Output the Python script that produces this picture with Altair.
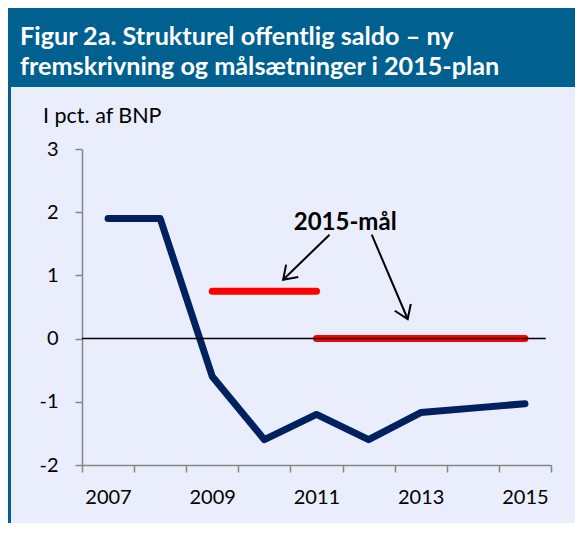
import altair as alt
import pandas as pd

# ---- data ----
years = [2007, 2008, 2009, 2010, 2011, 2012, 2013, 2014, 2015]
saldo = [1.9, 1.9, -0.6, -1.6, -1.2, -1.6, -1.17, -1.1, -1.03]

target_start = [2009, 2011]
target_end = [2011, 2015]
target_value = [0.75, 0.0]

y_ticks = [-2, -1, 0, 1, 2, 3]
x_tick_bounds = [2006.5 + i for i in range(10)]

title_text = "Figur 2a. Strukturel offentlig saldo – ny\nfremskrivning og målsætninger i 2015-plan"
y_unit = "I pct. af BNP"
annot_text = ["2015-mål"]
annot_x = [2011.55]
annot_y = [1.83]
arrow_x_start = [2011.25, 2012.06]
arrow_y_start = [1.644, 1.644]
arrow_x_end = [2010.36, 2012.75]
arrow_y_end = [0.932, 0.31]
arrow_angle = [225.6, 157.1]

# ---- styling ----
NAVY = "#002060"
RED = "#FF0000"
HEADER = "#00608F"
BG = "#EAEDFB"
GRAY = "#868686"
FONT = "Lato"

W, H = 469, 316
PAD_L, PAD_T = 74, 141
CANVAS_W, CANVAS_H = 567, 515
PAD_R = CANVAS_W - PAD_L - W
PAD_B = CANVAS_H - PAD_T - H

line_df = pd.DataFrame({"year": years, "saldo": saldo})
target_df = pd.DataFrame({"start": target_start, "end": target_end, "value": target_value})
arrow_df = pd.DataFrame({"x1": arrow_x_start, "y1": arrow_y_start,
                         "x2": arrow_x_end, "y2": arrow_y_end, "angle": arrow_angle})
annot_df = pd.DataFrame({"t": annot_text, "x": annot_x, "y": annot_y})
zero_df = pd.DataFrame({"a": [x_tick_bounds[0]], "b": [x_tick_bounds[-1] - 0.1], "y": [0]})
one = pd.DataFrame({"k": [0]})

xscale = alt.Scale(domain=[x_tick_bounds[0], x_tick_bounds[-1]], nice=False, zero=False)
yscale = alt.Scale(domain=[y_ticks[0], y_ticks[-1]], nice=False, zero=False)

x_axis = alt.Axis(
    values=x_tick_bounds,
    labelExpr="((datum.value + 0.5) % 2 == 1 && datum.value < 2015) ? '' + (datum.value + 0.5) : ''",
    labelOffset=26, labelOverlap=False, labelFlush=False,
    ticks=True, tickSize=7, tickColor=GRAY, tickWidth=1.5, domainColor=GRAY, domainWidth=1.5,
    grid=False, title=None, labelFont=FONT, labelFontSize=20, labelColor="black",
    labelPadding=15,
)
y_axis = alt.Axis(
    values=y_ticks, labelExpr="'' + datum.value",
    ticks=True, tickSize=7, tickColor=GRAY, tickWidth=1.5, domainColor=GRAY, domainWidth=1.5,
    grid=False, title=None, labelFont=FONT, labelFontSize=20, labelColor="black",
    labelPadding=17, labelAlign="right",
)


def X(field):
    return alt.X(field, type="quantitative", scale=xscale, axis=x_axis)


def Y(field):
    return alt.Y(field, type="quantitative", scale=yscale, axis=y_axis)


header = alt.Chart(one).mark_rect(color=HEADER).encode(
    x=alt.value(-PAD_L), x2=alt.value(CANVAS_W - PAD_L),
    y=alt.value(-PAD_T), y2=alt.value(-62),
)
stripe = alt.Chart(one).mark_rect(color=HEADER).encode(
    x=alt.value(-PAD_L), x2=alt.value(-PAD_L + 3),
    y=alt.value(-62), y2=alt.value(CANVAS_H - PAD_T),
)
title = alt.Chart(one).mark_text(
    align="left", baseline="alphabetic", font=FONT, fontWeight="bold",
    fontSize=25.2, color="white", lineBreak="\n", lineHeight=29.5,
).encode(x=alt.value(-62), y=alt.value(-104), text=alt.value(title_text))

unit = alt.Chart(one).mark_text(
    align="left", baseline="alphabetic", font=FONT, fontSize=21.5, color="black",
).encode(x=alt.value(-39), y=alt.value(-26), text=alt.value(y_unit))

line = alt.Chart(line_df).mark_line(color=NAVY, strokeWidth=7, strokeCap="round",
                                    strokeJoin="round").encode(
    x=X("year"), y=Y("saldo"),
)

targets = alt.Chart(target_df).mark_rule(color=RED, strokeWidth=7, strokeCap="round").encode(
    x=X("start"), x2="end:Q", y=Y("value"),
)

zero = alt.Chart(zero_df).mark_rule(color="black", strokeWidth=1.5).encode(
    x=X("a"), x2="b:Q", y=Y("y"),
)

arrows = alt.Chart(arrow_df).mark_rule(color="black", strokeWidth=2).encode(
    x=X("x1"), x2="x2:Q", y=Y("y1"), y2="y2:Q",
)
heads = alt.Chart(arrow_df).mark_point(
    shape="M -0.55 0.8 L 0 0 L 0.55 0.8", filled=False, size=1000,
    strokeWidth=2, color="black", opacity=1,
).encode(
    x=X("x2"), y=Y("y2"),
    angle=alt.Angle("angle:Q", scale=None),
)

annot = alt.Chart(annot_df).mark_text(
    font=FONT, fontWeight="bold", fontSize=24, color="black", baseline="middle",
).encode(
    x=X("x"), y=Y("y"), text="t:N",
)

chart = alt.layer(
    header, stripe, title, unit, line, targets, zero, arrows, heads, annot
).properties(
    width=W, height=H,
    padding={"left": PAD_L, "top": PAD_T, "right": PAD_R, "bottom": PAD_B},
    autosize=alt.AutoSizeParams(type="none"),
    background=BG,
).configure_view(strokeWidth=0)

chart.save("out.html", embed_options={"renderer": "svg", "actions": False})
